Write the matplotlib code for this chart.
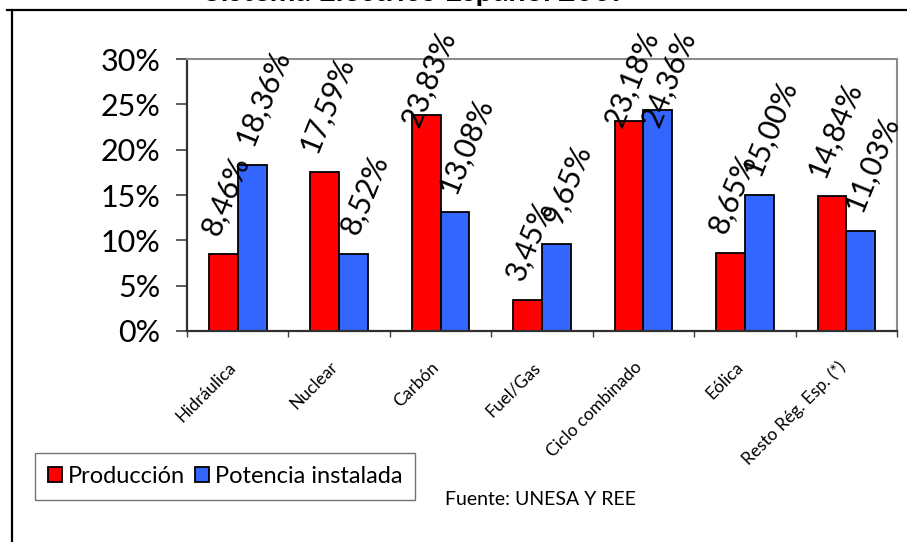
import matplotlib
matplotlib.use("Agg")
import matplotlib.pyplot as plt
import matplotlib.transforms as mtransforms
from matplotlib.lines import Line2D
from matplotlib.patches import Patch
import numpy as np

categorias = ["Hidráulica", "Nuclear", "Carbón", "Fuel/Gas",
              "Ciclo combinado", "Eólica", "Resto Rég. Esp. (*)"]
produccion = [8.46, 17.59, 23.83, 3.45, 23.18, 8.65, 14.84]
potencia = [18.36, 8.52, 13.08, 9.65, 24.36, 15.00, 11.03]
yticks = [0, 5, 10, 15, 20, 25, 30]

plt.rcParams['font.family'] = ['Lato', 'DejaVu Sans']

fig = plt.figure(figsize=(9.07, 5.42), dpi=100)
ax = fig.add_axes([0.2062, 0.3893, 0.7828, 0.5018])

x = np.arange(len(categorias))
w = 0.284
rojo = '#ff0000'
azul = '#3366ff'
ax.bar(x - w / 2, produccion, w, color=rojo, edgecolor='black', linewidth=1.3)
ax.bar(x + w / 2, potencia, w, color=azul, edgecolor='black', linewidth=1.3)

ax.set_xlim(-0.5, len(categorias) - 0.5)
ax.set_ylim(0, 30)

# etiquetas de datos
etiquetas = []
for xs, vals, dx in ((x - w / 2, produccion, 2), (x + w / 2, potencia, 8)):
    for xi, v in zip(xs, vals):
        t = ax.annotate(f"{v:.2f}%".replace('.', ','), (xi, v), xytext=(dx, 11),
                        textcoords='offset points', ha='center', va='bottom',
                        rotation=68, fontsize=21.5, annotation_clip=False)
        etiquetas.append(t)

# y axis
ax.set_yticks(yticks)
ax.set_yticklabels([f"{v}%" for v in yticks], fontsize=22)
ax.tick_params(axis='y', direction='out', length=8, width=1.2, pad=11, color='#404040')

# x axis: labels at centres, marks at boundaries
ax.set_xticks(x)
ax.set_xticks(np.arange(len(categorias) + 1) - 0.5, minor=True)
ax.set_xticklabels(categorias, fontsize=12.5, rotation=45, ha='right', rotation_mode='anchor')
ax.tick_params(axis='x', which='major', length=0, pad=20)
ax.tick_params(axis='x', which='minor', direction='out', length=4.5, width=1, color='#404040')
off = mtransforms.ScaledTranslation(-7 / 72, 0, fig.dpi_scale_trans)
for lab in ax.get_xticklabels():
    lab.set_transform(lab.get_transform() + off)

for s in ('left', 'bottom'):
    ax.spines[s].set_color('#303030')
    ax.spines[s].set_linewidth(1.6)
for s in ('top', 'right'):
    ax.spines[s].set_color('#8c8c8c')
    ax.spines[s].set_linewidth(1.5)

# legend
handles = [Patch(facecolor=rojo, edgecolor='black', linewidth=1.3, label='Producción'),
           Patch(facecolor=azul, edgecolor='black', linewidth=1.3, label='Potencia instalada')]
leg = fig.legend(handles=handles, loc='lower left', bbox_to_anchor=(0.0386, 0.0775),
                 ncol=2, fontsize=17, frameon=True, fancybox=False, edgecolor='#505050',
                 handlelength=0.6, handleheight=0.6, handletextpad=0.25,
                 columnspacing=0.4, borderpad=0.55, borderaxespad=0)
leg.get_frame().set_linewidth(1.0)

fig.text(0.4906, 0.068, "Fuente: UNESA Y REE", fontsize=14, ha='left', va='baseline')

# title, mostly cut off at the top
fig.text(0.459, 1.0 - 1 / 542, "Sistema Eléctrico Español 2007", fontsize=22,
         fontweight='bold', ha='center', va='baseline')

# outer frame (top and left visible)
fig.add_artist(Line2D([7 / 907, 1], [1 - 10 / 542, 1 - 10 / 542], color='black', lw=1.6,
                      transform=fig.transFigure))
fig.add_artist(Line2D([12 / 907, 12 / 907], [0, 1 - 10 / 542], color='black', lw=1.6,
                      transform=fig.transFigure))

# keep data labels inside chart area (pushed down like Excel does)
fig.canvas.draw()
r = fig.canvas.get_renderer()
limite = 542 - 27
for t in etiquetas:
    bb = t.get_window_extent(r)
    if bb.y1 > limite:
        dy = (bb.y1 - limite) * 72 / fig.dpi
        ox, oy = t.xyann
        t.xyann = (ox, oy - dy)

fig.savefig("out.png", dpi=100)
